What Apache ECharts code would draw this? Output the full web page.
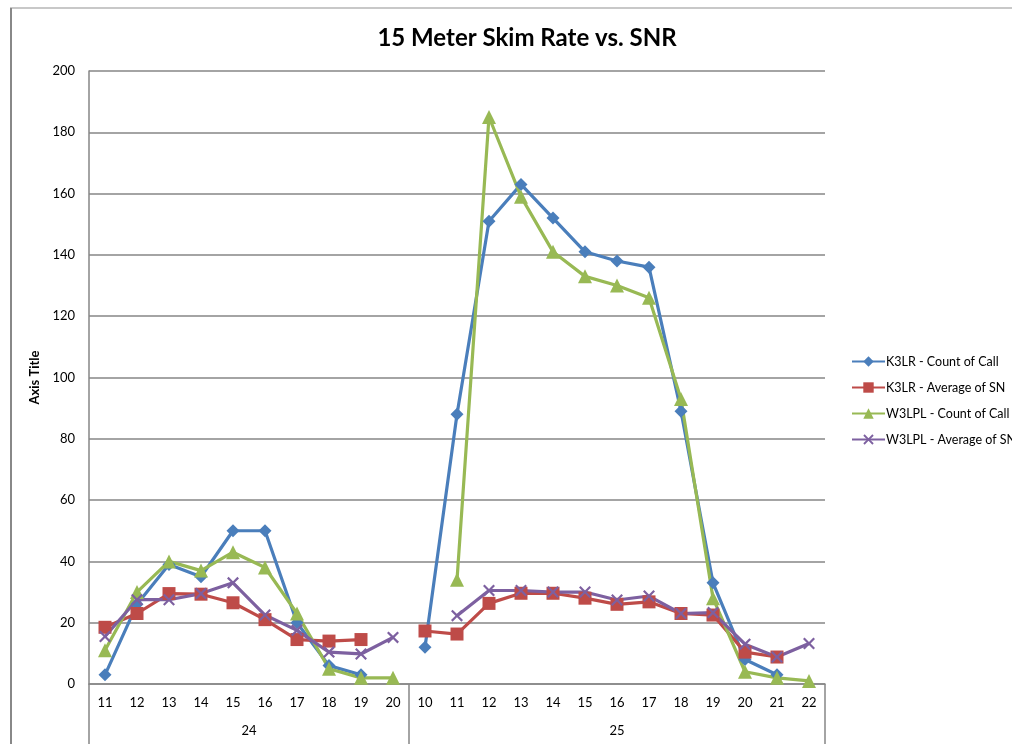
<!DOCTYPE html>
<html>
<head>
<meta charset="utf-8">
<script src="https://cdn.jsdelivr.net/npm/echarts@6/dist/echarts.min.js"></script>
<style>
html,body{margin:0;padding:0;background:#fff;}
#c{width:1012px;height:744px;}
</style>
</head>
<body>
<div id="c"></div>
<script>
// Category labels (inner level) and groups (outer level)
const hours = ['11','12','13','14','15','16','17','18','19','20','10','11','12','13','14','15','16','17','18','19','20','21','22'];
const groups = ['24','25'];
const groupSizes = [10, 13];
const yTicks = [0, 20, 40, 60, 80, 100, 120, 140, 160, 180, 200];

const k3lrCount = [3, 26, 39, 35, 50, 50, 20, 6, 3, null, 12, 88, 151, 163, 152, 141, 138, 136, 89, 33, 8, 3, null];
const k3lrAvg   = [18.5, 23, 29.5, 29.3, 26.5, 21, 14.5, 14, 14.5, null, 17.3, 16.3, 26.3, 29.6, 29.6, 28, 26, 26.8, 23, 22.5, 10.4, 8.8, null];
const w3lplCount = [11, 30, 40, 37, 43, 38, 23, 5, 2, 2, null, 34, 185, 159, 141, 133, 130, 126, 93, 28, 4, 2, 1];
const w3lplAvg   = [15.5, 27.5, 27.5, 29.5, 33, 22.5, 17.5, 10.4, 9.8, 15.2, null, 22.3, 30.5, 30.5, 30, 30, 27.4, 28.7, 23, 23.3, 13, 8.8, 13.2];

const seriesNames = ['K3LR - Count of Call', 'K3LR - Average of SN', 'W3LPL - Count of Call', 'W3LPL - Average of SN'];
const colors = ['#4A7EBB', '#BE4B48', '#98B954', '#7D60A0'];

// group label positions (center of each group) and boundaries on a 0..N value axis
const boundaries = [0];
groupSizes.forEach(s => boundaries.push(boundaries[boundaries.length - 1] + s));
const groupCenters = groupSizes.map((s, i) => boundaries[i] + s / 2);
const total = hours.length;

const xPath = 'path://M0,1.3L1.3,0L5,3.7L8.7,0L10,1.3L6.3,5L10,8.7L8.7,10L5,6.3L1.3,10L0,8.7L3.7,5Z';

const chart = echarts.init(document.getElementById('c'), null, {renderer: 'canvas'});
const font = 'Lato, "Open Sans", sans-serif';

function mk(name, data, color, symbol, size) {
  return {
    name: name, type: 'line', data: data, xAxisIndex: 0, yAxisIndex: 0,
    connectNulls: false, symbol: symbol, symbolSize: size, showSymbol: true,
    lineStyle: {color: color, width: 3.2},
    itemStyle: {color: color},
    emphasis: {disabled: true},
    animation: false
  };
}

chart.setOption({
  animation: false,
  backgroundColor: '#fff',
  textStyle: {fontFamily: font},
  title: {
    text: '15 Meter Skim Rate vs. SNR',
    left: 522, top: 21, textAlign: 'center',
    textStyle: {fontFamily: font, fontSize: 24, fontWeight: 'bold', color: '#000'}
  },
  graphic: [
    {type: 'line', shape: {x1: 10, y1: 8, x2: 1012, y2: 8}, style: {stroke: '#c8c8c8', lineWidth: 2}, silent: true},
    {type: 'line', shape: {x1: 11, y1: 8, x2: 11, y2: 744}, style: {stroke: '#888', lineWidth: 2}, silent: true}
  ],
  legend: {
    orient: 'vertical', left: 846, top: 350, itemGap: 13,
    itemWidth: 33, itemHeight: 13,
    textStyle: {fontFamily: font, fontSize: 12.5, color: '#000', padding: [0, 0, 0, -4]},
    data: seriesNames
  },
  grid: {left: 89, right: 187, top: 71, bottom: 60, containLabel: false},
  xAxis: [
    {
      type: 'category', data: hours, boundaryGap: true, position: 'bottom',
      axisLine: {show: true, lineStyle: {color: '#868686', width: 1.5}},
      axisTick: {show: false},
      axisLabel: {interval: 0, color: '#000', fontSize: 13, fontFamily: font, margin: 12},
      splitLine: {show: false}
    },
    {
      type: 'value', min: 0, max: total, position: 'bottom',
      axisLine: {show: false},
      axisTick: {show: true, customValues: boundaries, length: 62, lineStyle: {color: '#868686', width: 1.5}},
      axisLabel: {show: true, customValues: groupCenters, color: '#000', fontSize: 13, fontFamily: font, margin: 40,
        formatter: function (v) { const i = groupCenters.indexOf(v); return i >= 0 ? groups[i] : ''; }},
      splitLine: {show: false}
    }
  ],
  yAxis: {
    type: 'value', min: yTicks[0], max: yTicks[yTicks.length - 1], interval: yTicks[1] - yTicks[0],
    name: 'Axis Title', nameLocation: 'middle', nameGap: 46,
    nameTextStyle: {fontFamily: font, fontSize: 13, fontWeight: 'bold', color: '#000'},
    axisLine: {show: true, lineStyle: {color: '#868686', width: 1.5}},
    axisTick: {show: false},
    axisLabel: {color: '#000', fontSize: 13, fontFamily: font, margin: 14},
    splitLine: {show: true, lineStyle: {color: '#868686', width: 1.5}}
  },
  series: [
    mk(seriesNames[0], k3lrCount, colors[0], 'diamond', 13),
    mk(seriesNames[1], k3lrAvg, colors[1], 'rect', 13),
    mk(seriesNames[2], w3lplCount, colors[2], 'triangle', 14),
    mk(seriesNames[3], w3lplAvg, colors[3], xPath, 12)
  ]
});
</script>
</body>
</html>
